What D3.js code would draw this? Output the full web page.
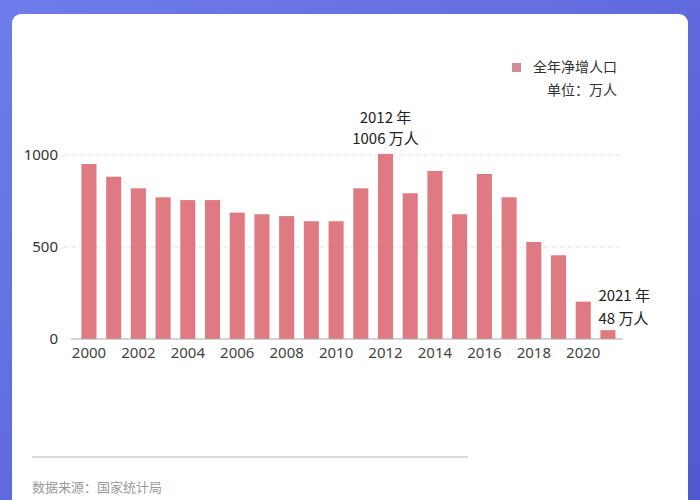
<!DOCTYPE html>
<html>
<head>
<meta charset="utf-8">
<script src="https://cdn.jsdelivr.net/npm/d3@7"></script>
<style>
  body { margin: 0; background: #fff; }
  svg { display: block; font-family: "Noto Sans CJK SC", "Noto Sans", sans-serif; }
</style>
</head>
<body>
<div id="chart"></div>
<script>
// data (万人)
const years = d3.range(2000, 2022)
const netGrowth = [951, 882, 819, 770, 755, 755, 687, 678, 668, 640, 640,
                   819, 1006, 792, 913, 678, 897, 770, 527, 455, 203, 48]
const yTicks = [0, 500, 1000]
const xTickYears = [2000, 2002, 2004, 2006, 2008, 2010, 2012, 2014, 2016, 2018, 2020]
const legendLabel = "全年净增人口"
const unitLabel = "单位：万人"
const sourceLabel = "数据来源：国家统计局"
const notes = [
	{ year: 2012, lines: ["2012 年", "1006 万人"] },
	{ year: 2021, lines: ["2021 年", "48 万人"] }
]

const width = 700
const height = 500
const barColor = "#e07a82"

const svg = d3.select("#chart").append("svg")
	.attr("width", width)
	.attr("height", height)

// blue backdrop + white card
const defs = svg.append("defs")
const grad = defs.append("linearGradient").attr("id", "bg")
	.attr("x1", 0).attr("y1", 0).attr("x2", 1).attr("y2", 1)
grad.append("stop").attr("offset", "0%").attr("stop-color", "#6f7ceb")
grad.append("stop").attr("offset", "100%").attr("stop-color", "#5159cf")
svg.append("rect").attr("width", width).attr("height", height).attr("fill", "url(#bg)")
svg.append("rect")
	.attr("x", 12).attr("y", 14)
	.attr("width", 676).attr("height", 520)
	.attr("rx", 9)
	.attr("fill", "#ffffff")

const x = d3.scaleBand()
	.domain(years)
	.range([76.6, 620.3])
	.paddingInner(0.39)
	.paddingOuter(0.195)

const y = d3.scaleLinear()
	.domain([0, 1000])
	.range([339, 155])

// gridlines
svg.append("g")
	.selectAll("line")
	.data(yTicks.filter(d => d > 0))
	.join("line")
	.attr("x1", 63).attr("x2", 623)
	.attr("y1", d => y(d)).attr("y2", d => y(d))
	.attr("stroke", "#e2e2e2")
	.attr("stroke-dasharray", "5,3")

// y axis labels
const yAxis = svg.append("g")
	.attr("transform", "translate(58,0)")
	.call(d3.axisLeft(y).tickValues(yTicks).tickSize(0).tickPadding(0).tickFormat(d3.format("d")))
yAxis.select(".domain").remove()
yAxis.selectAll("text")
	.attr("font-size", 15)
	.attr("fill", "#333")
	.style("font-family", "'Noto Sans', sans-serif")

// bars
svg.append("g")
	.selectAll("rect")
	.data(years)
	.join("rect")
	.attr("x", d => x(d))
	.attr("width", x.bandwidth())
	.attr("y", (d, i) => y(netGrowth[i]))
	.attr("height", (d, i) => y(0) - y(netGrowth[i]))
	.attr("fill", barColor)

// baseline
svg.append("line")
	.attr("x1", 71).attr("x2", 623)
	.attr("y1", y(0)).attr("y2", y(0))
	.attr("stroke", "#a8a8a8")

// x axis labels
const xAxis = svg.append("g")
	.attr("transform", `translate(0,${y(0)})`)
	.call(d3.axisBottom(x).tickValues(xTickYears).tickSize(0).tickPadding(8))
xAxis.select(".domain").remove()
xAxis.selectAll("text")
	.attr("font-size", 15)
	.attr("fill", "#444")
	.style("font-family", "'Noto Sans', sans-serif")

// annotations
const n2012 = notes[0]
svg.append("text")
	.attr("text-anchor", "middle")
	.attr("font-size", 15)
	.attr("fill", "#222")
	.selectAll("tspan")
	.data(n2012.lines)
	.join("tspan")
	.attr("x", x(n2012.year) + x.bandwidth() / 2)
	.attr("y", (d, i) => 123 + i * 21)
	.text(d => d)

const n2021 = notes[1]
svg.append("text")
	.attr("font-size", 15)
	.attr("fill", "#222")
	.selectAll("tspan")
	.data(n2021.lines)
	.join("tspan")
	.attr("x", x(n2021.year) - 2)
	.attr("y", (d, i) => 301 + i * 23)
	.text(d => d)

// legend
svg.append("rect")
	.attr("x", 512).attr("y", 63)
	.attr("width", 9).attr("height", 9)
	.attr("fill", "#cf8c97")
svg.append("text")
	.attr("x", 617).attr("y", 72)
	.attr("text-anchor", "end")
	.attr("font-size", 14)
	.attr("fill", "#333")
	.text(legendLabel)
svg.append("text")
	.attr("x", 617).attr("y", 95)
	.attr("text-anchor", "end")
	.attr("font-size", 14)
	.attr("fill", "#333")
	.text(unitLabel)

// footer
svg.append("line")
	.attr("x1", 32).attr("x2", 468)
	.attr("y1", 457).attr("y2", 457)
	.attr("stroke", "#b5b5b5")
svg.append("text")
	.attr("x", 32).attr("y", 492)
	.attr("font-size", 13)
	.attr("fill", "#9a9a9a")
	.text(sourceLabel)
</script>
</body>
</html>
